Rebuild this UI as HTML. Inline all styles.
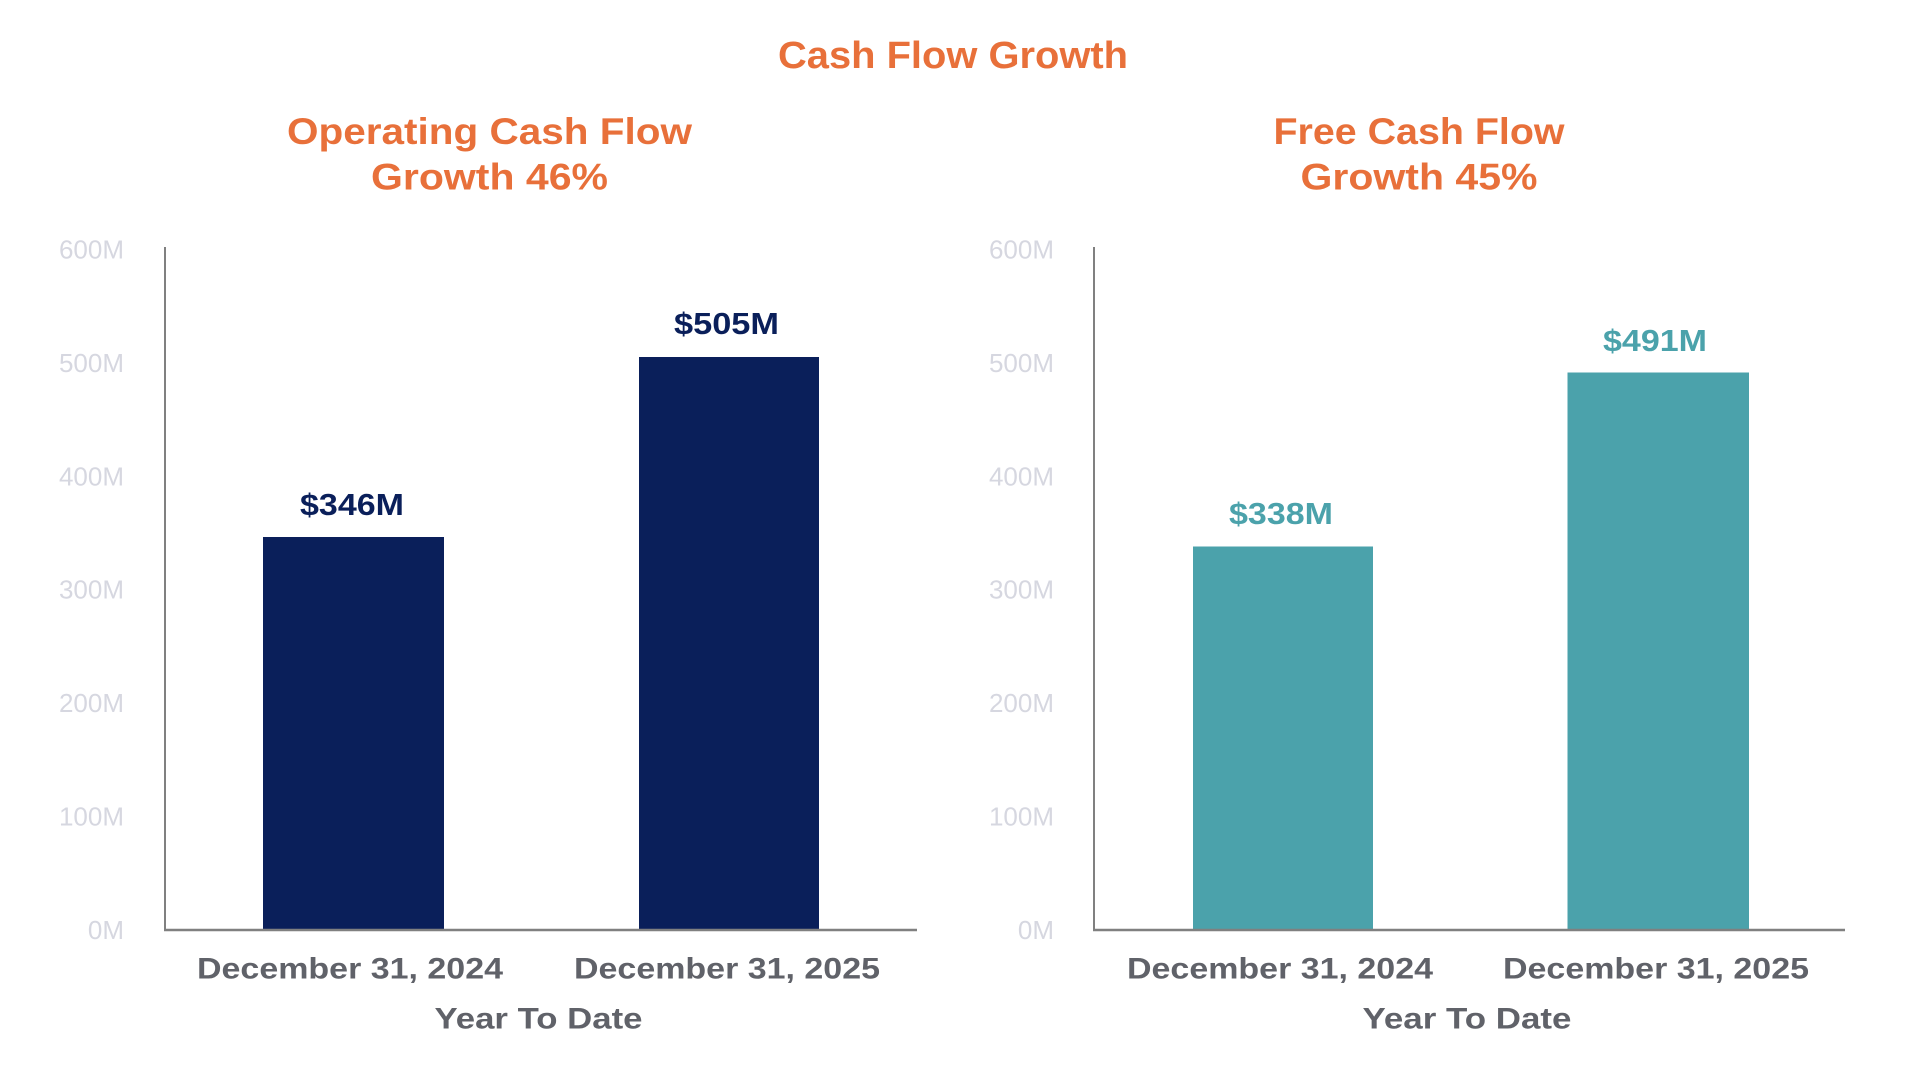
<!DOCTYPE html>
<html>
<head>
<meta charset="utf-8">
<style>
  html, body { margin: 0; padding: 0; background: #ffffff; }
  body { width: 1920px; height: 1071px; overflow: hidden; }
  svg { display: block; }
  .t { font-family: "Liberation Sans", Arial, sans-serif; }
</style>
</head>
<body>
<svg width="1920" height="1071" viewBox="0 0 1920 1071" xmlns="http://www.w3.org/2000/svg">
  <rect x="0" y="0" width="1920" height="1071" fill="#ffffff"/>

  <!-- Main title -->
  <text class="t" x="953" y="68" font-size="38" font-weight="bold" fill="#E8703A" text-anchor="middle" textLength="350" lengthAdjust="spacingAndGlyphs">Cash Flow Growth</text>

  <!-- Left subtitle -->
  <text class="t" x="489.5" y="144" font-size="37" font-weight="bold" fill="#E8703A" text-anchor="middle" textLength="405" lengthAdjust="spacingAndGlyphs">Operating Cash Flow</text>
  <text class="t" x="489.5" y="189.5" font-size="37" font-weight="bold" fill="#E8703A" text-anchor="middle" textLength="237" lengthAdjust="spacingAndGlyphs">Growth 46%</text>

  <!-- Right subtitle -->
  <text class="t" x="1419" y="144" font-size="37" font-weight="bold" fill="#E8703A" text-anchor="middle" textLength="291" lengthAdjust="spacingAndGlyphs">Free Cash Flow</text>
  <text class="t" x="1419" y="189.5" font-size="37" font-weight="bold" fill="#E8703A" text-anchor="middle" textLength="237" lengthAdjust="spacingAndGlyphs">Growth 45%</text>

  <!-- Left y tick labels -->
  <g class="t" font-size="26" fill="#D6D7E0" text-anchor="end">
    <text x="124" y="258.4">600M</text>
    <text x="124" y="371.9">500M</text>
    <text x="124" y="485.3">400M</text>
    <text x="124" y="598.7">300M</text>
    <text x="124" y="712.1">200M</text>
    <text x="124" y="825.6">100M</text>
    <text x="124" y="939">0M</text>
  </g>
  <!-- Right y tick labels -->
  <g class="t" font-size="26" fill="#D6D7E0" text-anchor="end">
    <text x="1054" y="258.4">600M</text>
    <text x="1054" y="371.9">500M</text>
    <text x="1054" y="485.3">400M</text>
    <text x="1054" y="598.7">300M</text>
    <text x="1054" y="712.1">200M</text>
    <text x="1054" y="825.6">100M</text>
    <text x="1054" y="939">0M</text>
  </g>

  <!-- Left bars -->
  <rect x="263" y="537" width="181" height="393" fill="#0A1F5A"/>
  <rect x="639" y="357" width="180" height="573" fill="#0A1F5A"/>
  <!-- Right bars -->
  <rect x="1193" y="546.5" width="180" height="383.5" fill="#4BA2AB"/>
  <rect x="1567.5" y="372.5" width="181.5" height="557.5" fill="#4BA2AB"/>

  <!-- Axes left -->
  <line x1="165" y1="247" x2="165" y2="931" stroke="#808080" stroke-width="2"/>
  <line x1="164" y1="930" x2="917" y2="930" stroke="#808080" stroke-width="2.5"/>
  <!-- Axes right -->
  <line x1="1094" y1="247" x2="1094" y2="931" stroke="#808080" stroke-width="2"/>
  <line x1="1093" y1="930" x2="1845" y2="930" stroke="#808080" stroke-width="2.5"/>

  <!-- Bar value labels -->
  <text class="t" x="352" y="515" font-size="31" font-weight="bold" fill="#0A1F5A" text-anchor="middle" textLength="104" lengthAdjust="spacingAndGlyphs">$346M</text>
  <text class="t" x="726.5" y="334" font-size="31" font-weight="bold" fill="#0A1F5A" text-anchor="middle" textLength="105" lengthAdjust="spacingAndGlyphs">$505M</text>
  <text class="t" x="1281" y="524" font-size="31" font-weight="bold" fill="#4BA2AB" text-anchor="middle" textLength="104" lengthAdjust="spacingAndGlyphs">$338M</text>
  <text class="t" x="1655" y="351" font-size="31" font-weight="bold" fill="#4BA2AB" text-anchor="middle" textLength="104" lengthAdjust="spacingAndGlyphs">$491M</text>

  <!-- X category labels -->
  <g class="t" font-size="30" font-weight="bold" fill="#606269" text-anchor="middle">
    <text x="350" y="978.5" textLength="306" lengthAdjust="spacingAndGlyphs">December 31, 2024</text>
    <text x="727" y="978.5" textLength="306" lengthAdjust="spacingAndGlyphs">December 31, 2025</text>
    <text x="1280" y="978.5" textLength="306" lengthAdjust="spacingAndGlyphs">December 31, 2024</text>
    <text x="1656" y="978.5" textLength="306" lengthAdjust="spacingAndGlyphs">December 31, 2025</text>
  </g>

  <!-- X axis titles -->
  <g class="t" font-size="30" font-weight="bold" fill="#606269" text-anchor="middle">
    <text x="538.5" y="1028.5" textLength="208" lengthAdjust="spacingAndGlyphs">Year To Date</text>
    <text x="1467" y="1028.5" textLength="209" lengthAdjust="spacingAndGlyphs">Year To Date</text>
  </g>
</svg>
</body>
</html>
